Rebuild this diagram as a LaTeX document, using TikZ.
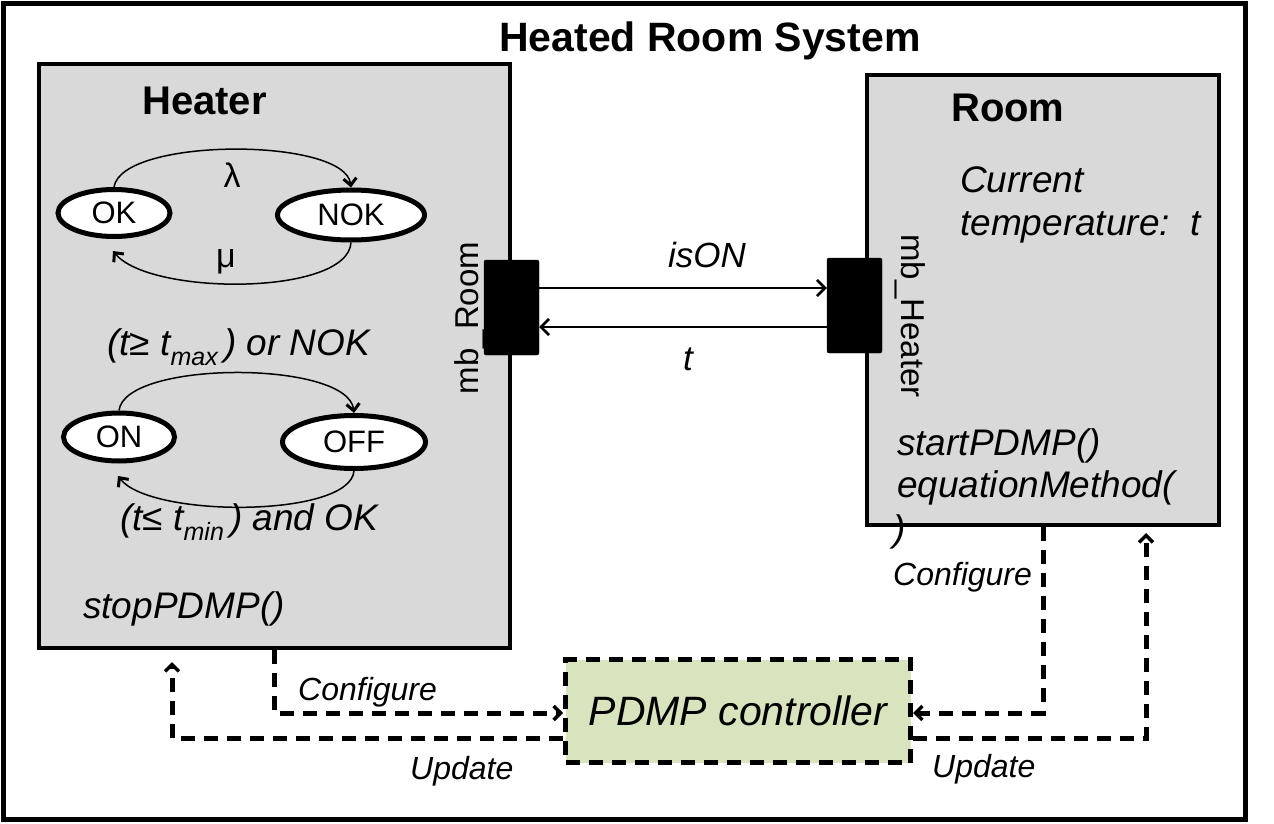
\documentclass[tikz,border=0pt]{standalone}
\usepackage{fontspec}
\setmainfont{Liberation Sans}
\usetikzlibrary{arrows.meta,shapes.geometric}
\definecolor{boxgray}{HTML}{D9D9D9}
\definecolor{pdmpgreen}{HTML}{D7E4BD}
\newcommand{\fsz}[1]{\fontsize{#1}{#1}\selectfont}
\newcommand{\subtxt}[1]{\raisebox{-0.28em}{\fsz{25}#1}}
\begin{document}
\begin{tikzpicture}[x=1pt,y=-1pt,
  box/.style={draw=black, line width=4.5pt, fill=boxgray, inner sep=0pt},
  state/.style={ellipse, draw=black, line width=5pt, fill=white, inner sep=0pt, font=\fsz{31}},
  port/.style={fill=black, draw=black, rounded corners=2pt, minimum width=55pt, minimum height=95pt, inner sep=0pt},
  trans/.style={line width=1.5pt, -{Straight Barb[length=7pt,width=13pt,line width=3pt]}},
  flow/.style={line width=2pt, -{Straight Barb[length=8pt,width=16pt,line width=2.6pt]}},
  dflow/.style={line width=5pt, dash pattern=on 14pt off 9pt, -{Straight Barb[length=7pt,width=14pt,line width=3.5pt]}},
  lbl/.style={font=\fsz{32}\itshape, inner sep=0pt},
  bigl/.style={font=\fsz{37}\itshape, inner sep=0pt},
  cond/.style={font=\fsz{37}\itshape, inner sep=0pt},
]
\useasboundingbox (0,0) rectangle (1274,824);
\node[draw=black, line width=5pt, minimum width=1242pt, minimum height=816pt, inner sep=0pt] (frame) at (624.5,411.5) {};
\node[font=\fsz{41}\bfseries, anchor=base, inner sep=0pt] (title) at (710,52) {Heated Room System};

% component boxes
\node[box, minimum width=471pt, minimum height=584pt] (heater) at (274.5,356) {};
\node[box, minimum width=352pt, minimum height=450pt] (room) at (1043,300) {};
\node[font=\fsz{40}\bfseries, anchor=base west, inner sep=0pt] (heatertitle) at (142,115) {Heater};
\node[font=\fsz{40}\bfseries, anchor=base west, inner sep=0pt] (roomtitle) at (951,122) {Room};

% states
\node[state, minimum width=112pt, minimum height=47pt] (ok) at (114,213) {OK};
\node[state, minimum width=147pt, minimum height=50pt] (nok) at (351,215) {NOK};
\node[state, minimum width=111pt, minimum height=48pt] (on) at (119,437) {ON};
\node[state, minimum width=143pt, minimum height=53pt] (off) at (354,442) {OFF};

\coordinate (okbelow) at (113,251);
\coordinate (onbelow) at (118,476);
\draw[trans] (ok.north) .. controls (122,137) and (345,137) .. (nok.north);
\draw[trans] (nok.south) .. controls (348,296) and (150,296) .. (okbelow);
\draw[trans] (on.north) .. controls (125,360) and (348,360) .. (off.north);
\draw[trans] (off.south) .. controls (350,518) and (150,518) .. (onbelow);

\node[font=\fsz{34}, inner sep=0pt] (lam) at (232,175) {λ};
\node[font=\fsz{34}, inner sep=0pt] (mu) at (226,262) {μ};
\node[cond, anchor=base west] (cond1) at (107,355) {(t≥ t\subtxt{max}\,) or NOK};
\node[cond, anchor=base west] (cond2) at (120,530) {(t≤ t\subtxt{min}\,) and OK};
\node[bigl, anchor=base west] (stop) at (83,618) {stopPDMP()};

% ports
\node[port] (portL) at (511.5,307.5) {};
\node[port] (portR) at (854.5,305.5) {};
\node[font=\fsz{33}, rotate=90, anchor=base, inner sep=0pt] (mbroom) at (478,318) {mb\_Room};
\node[font=\fsz{33}, rotate=-90, anchor=base, inner sep=0pt] (mbheater) at (901,316) {mb\_Heater};

\coordinate (isony) at (0,288);
\coordinate (ty) at (0,327);
\draw[flow] (portL.east |- isony) -- (portR.west |- isony);
\draw[flow] (portR.west |- ty) -- (portL.east |- ty);
\node[font=\fsz{35}\itshape, anchor=base west, inner sep=0pt] (ison) at (668,267) {isON};
\node[font=\fsz{35}\itshape, anchor=base, inner sep=0pt] (tlbl) at (688,370) {t};

% room texts
\node[bigl, anchor=base west] (cur1) at (960,192) {Current};
\node[bigl, anchor=base west] (cur2) at (960,235) {temperature:\ \ t};
\node[bigl, anchor=base west] (start) at (897,455) {startPDMP()};
\node[bigl, anchor=base west] (eqm) at (897,497) {equationMethod(};
\node[bigl, anchor=base west] (eqm2) at (893,541) {)};

% controller
\node[draw=black, line width=5pt, dash pattern=on 14pt off 9pt, fill=pdmpgreen, minimum width=345pt, minimum height=103pt, inner sep=0pt, font=\fsz{41}\itshape] (pdmp) at (738,711) {PDMP controller};

\coordinate (cfgL) at (274,713);
\coordinate (updL) at (172,738);
\coordinate (updLend) at (172,662);
\coordinate (cfgR) at (1043,713);
\coordinate (updR) at (1146,738);
\coordinate (updRend) at (1146,533);
\draw[dflow] (heater.south -| cfgL) -- (cfgL) -- (pdmp.west |- cfgL);
\draw[dflow] (pdmp.west |- updL) -- (updL) -- (updLend);
\draw[dflow] (room.south -| cfgR) -- (cfgR) -- (pdmp.east |- cfgR);
\draw[dflow] (pdmp.east |- updR) -- (updR) -- (updRend);

\node[lbl, anchor=base west] (cfgLl) at (298,700) {Configure};
\node[lbl, anchor=base west] (updLl) at (410,779) {Update};
\node[lbl, anchor=base west] (cfgRl) at (893,585) {Configure};
\node[lbl, anchor=base west] (updRl) at (932,777) {Update};
\end{tikzpicture}
\end{document}
